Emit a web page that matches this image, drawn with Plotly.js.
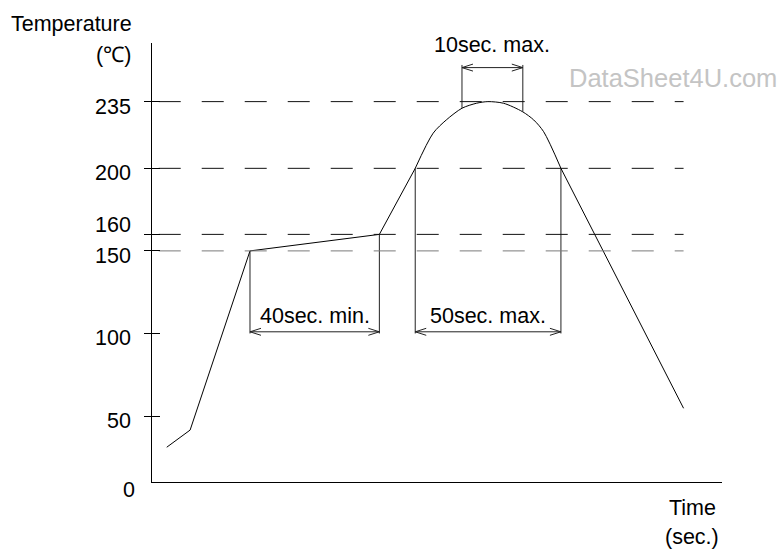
<!DOCTYPE html>
<html>
<head>
<meta charset="utf-8">
<script src="https://cdn.plot.ly/plotly-3.0.1.min.js"></script>
<style>html,body{margin:0;padding:0;background:#fff;}#chart{width:781px;height:549px;}</style>
</head>
<body>
<div id="chart"></div>
<script>
// ---- data (schematic reflow profile) ----
const tickLabels = ['50', '100', '150', '160', '200', '235'];
const tickPos = [50, 100, 150, 160, 200, 240.4];   // where each label sits on the schematic axis
const guideLabels = ['150', '160', '200', '235'];
const guidePos = [150, 160, 200, 240.4];

const profileTime = [4.6, 11.9, 30.6, 71.0, 82.2, 87.8, 91.9, 96.8, 101.3, 104.9, 109.8, 115.7, 119.2, 122.3, 127.7, 166.0];
const profileTemp = [31.1, 41.5, 150, 160, 200, 221.3, 229.3, 236.4, 239.4, 240.4, 239.4, 234.3, 229.3, 222.2, 200, 54.7];
const peakFrom = 4, peakTo = 14;   // indexes of the rounded peak section

const dimLabels = ['40sec. min.', '50sec. max.', '10sec. max.'];
const dimStart = [30.6, 82.2, 96.8];
const dimEnd = [71.0, 127.7, 115.8];
const dimStartTemp = [150, 200, 236.6];
const dimEndTemp = [160, 200, 234.3];
const dimArrowTemp = [101, 101, 261];
const dimLineEnd = [100, 100, 262.6];

const xTitle = ['Time', '(sec.)'];
const yTitle = ['Temperature', '(\u2103)'];
const watermark = 'DataSheet4U.com';

// ---- layout constants ----
const W = 781, H = 549;
const M = {l: 152, r: 59, t: 43, b: 67};
const xRange = [0, 178];
const yRange = [10.05, 275.9];
const pxX = (W - M.l - M.r) / (xRange[1] - xRange[0]);
const pxY = (H - M.t - M.b) / (yRange[1] - yRange[0]);
const FONT = 'Liberation Sans, Arial, Helvetica, sans-serif';
const FS = 21.5;

const traces = [];

// guide dashed lines
guidePos.forEach((v, i) => {
  traces.push({
    x: [2.1, 166.0], y: [v, v], mode: 'lines', yaxis: 'y2',
    line: {color: guideLabels[i] === '150' ? '#7a7a7a' : '#111', width: 1, dash: '22px,21px'},
    hoverinfo: 'skip', showlegend: false
  });
});

// dimension lines with open arrow heads
const ahL = 11 / pxX, ahW = 3.5 / pxY;
dimLabels.forEach((lab, i) => {
  const x0 = dimStart[i], x1 = dimEnd[i], ya = dimArrowTemp[i], ye = dimLineEnd[i];
  traces.push({
    x: [x0, x0, null, x1, x1, null, x0, x1, null,
        x0 + ahL, x0, x0 + ahL, null, x1 - ahL, x1, x1 - ahL],
    y: [dimStartTemp[i], ye, null, dimEndTemp[i], ye, null, ya, ya, null,
        ya + ahW, ya, ya - ahW, null, ya + ahW, ya, ya - ahW],
    mode: 'lines', line: {color: '#222', width: 1}, hoverinfo: 'skip', showlegend: false
  });
});

// profile curve: straight ramps + rounded peak
const seg = (a, b) => ({x: profileTime.slice(a, b + 1), y: profileTemp.slice(a, b + 1)});
const rampUp = seg(0, peakFrom), peak = seg(peakFrom, peakTo), rampDown = seg(peakTo, profileTime.length - 1);
[rampUp, rampDown].forEach(s => traces.push({
  x: s.x, y: s.y, mode: 'lines', line: {color: '#000', width: 1}, hoverinfo: 'skip', showlegend: false
}));
traces.push({
  x: peak.x, y: peak.y, mode: 'lines',
  line: {color: '#000', width: 1, shape: 'spline', smoothing: 0.8}, hoverinfo: 'skip', showlegend: false
});

const annotations = [];
const baseFont = {family: FONT, size: FS, color: '#000'};

// tick labels
tickLabels.forEach((t, i) => {
  annotations.push({
    xref: 'paper', x: 0, xanchor: 'right', xshift: -19,
    yref: 'y', y: tickPos[i], yanchor: 'middle', yshift: t === '160' ? 9 : -5,
    text: t, showarrow: false, font: baseFont
  });
});
annotations.push({
  xref: 'paper', x: 0, xanchor: 'right', xshift: -15,
  yref: 'paper', y: 0, yanchor: 'middle', yshift: -8,
  text: '0', showarrow: false, font: baseFont
});

// dimension labels
dimLabels.forEach((lab, i) => {
  const up = i === 2;
  annotations.push({
    x: (dimStart[i] + dimEnd[i]) / 2, y: dimArrowTemp[i],
    yshift: up ? 23 : 16, xanchor: 'center', yanchor: 'middle',
    text: lab, showarrow: false, font: baseFont
  });
});

// axis titles
annotations.push({xref: 'paper', x: 0, xanchor: 'left', xshift: -143,
  yref: 'paper', y: 1, yanchor: 'middle', yshift: 19, text: yTitle[0], showarrow: false, font: baseFont});
annotations.push({xref: 'paper', x: 0, xanchor: 'right', xshift: -19,
  yref: 'paper', y: 1, yanchor: 'middle', yshift: -12, text: yTitle[1], showarrow: false, font: baseFont});
annotations.push({xref: 'paper', x: 1, xanchor: 'center', xshift: -30,
  yref: 'paper', y: 0, yanchor: 'middle', yshift: -26, text: xTitle[0], showarrow: false, font: baseFont});
annotations.push({xref: 'paper', x: 1, xanchor: 'center', xshift: -30,
  yref: 'paper', y: 0, yanchor: 'middle', yshift: -55, text: xTitle[1], showarrow: false, font: baseFont});

// watermark
annotations.push({xref: 'paper', x: 1, xanchor: 'right', xshift: 57,
  yref: 'paper', y: 1, yanchor: 'middle', yshift: -35, text: watermark, showarrow: false,
  font: {family: FONT, size: 25.5, color: '#c4c4c4'}});

const layout = {
  width: W, height: H, margin: M,
  paper_bgcolor: '#fff', plot_bgcolor: '#fff',
  showlegend: false,
  font: baseFont,
  xaxis: {range: xRange, showline: true, linecolor: '#000', linewidth: 1,
    showgrid: false, zeroline: false, ticks: '', showticklabels: false, fixedrange: true},
  yaxis: {range: yRange, showline: true, linecolor: '#000', linewidth: 1,
    showgrid: false, zeroline: false, ticks: 'outside', ticklen: 7, tickwidth: 1, tickcolor: '#000',
    tickmode: 'array', tickvals: tickPos, showticklabels: false, fixedrange: true},
  yaxis2: {range: yRange, overlaying: 'y', side: 'left', showline: false,
    showgrid: false, zeroline: false, ticks: 'inside', ticklen: 8, tickwidth: 1, tickcolor: '#000',
    tickmode: 'array', tickvals: tickPos, showticklabels: false, fixedrange: true},
  annotations: annotations
};

Plotly.newPlot('chart', traces, layout, {staticPlot: true, displayModeBar: false});
</script>
</body>
</html>
